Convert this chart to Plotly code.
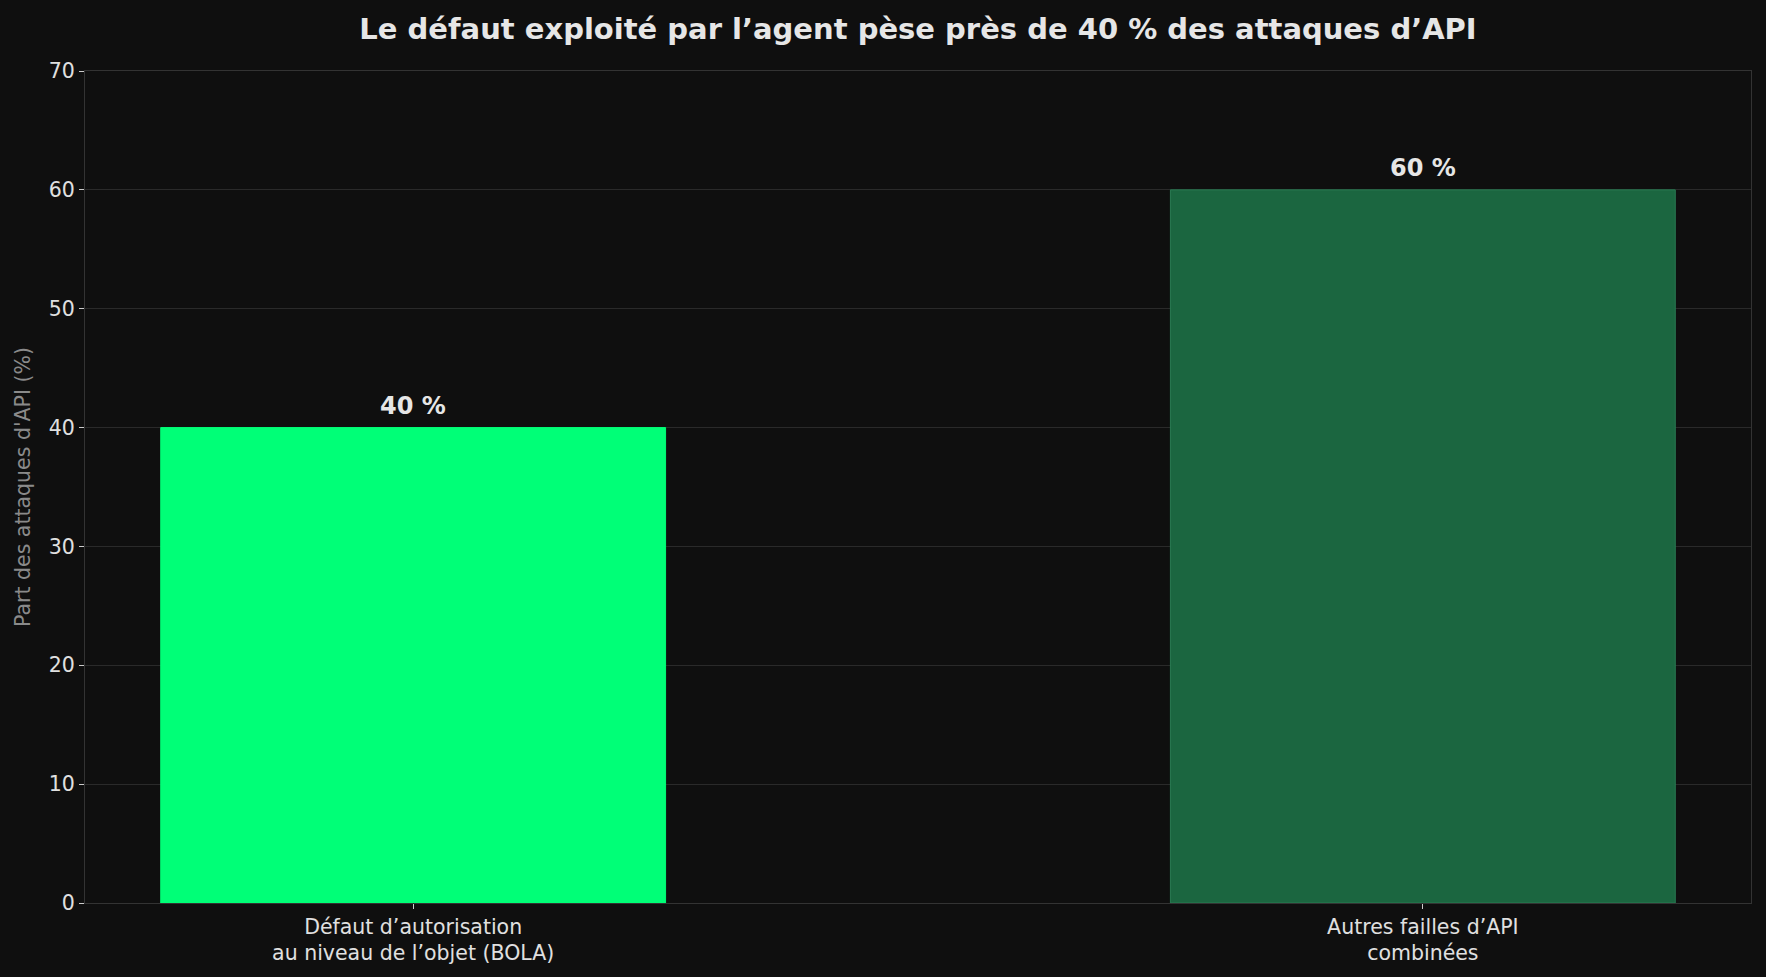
import plotly.graph_objects as go

# data
categories = ["Défaut d’autorisation<br>au niveau de l’objet (BOLA)", "Autres failles d’API<br>combinées"]
shares = [40, 60]
bar_colors = ["#00ff77", "#1b6640"]
value_labels = ["40 %", "60 %"]

W, H = 1766, 977
BG = "#0f0f0f"
FONT = "DejaVu Sans"

fig = go.Figure()
fig.add_trace(go.Bar(
    x=[0, 1], y=shares,
    width=0.5,
    marker=dict(color=bar_colors, line=dict(color=["#00ff77", "#2a7a52"], width=1)),
    hoverinfo="skip",
))

# value labels above the bars
for i, (v, lab) in enumerate(zip(shares, value_labels)):
    fig.add_annotation(
        x=i, y=v, text="<b>" + lab + "</b>", showarrow=False,
        yanchor="bottom", yshift=6,
        font=dict(family=FONT, size=24, color="#e6e6e6"),
    )

fig.update_layout(
    width=W, height=H,
    paper_bgcolor=BG, plot_bgcolor=BG,
    margin=dict(l=85, r=15, t=71, b=74),
    showlegend=False,
    font=dict(family=FONT, color="#e6e6e6"),
    title=dict(
        text="<b>Le défaut exploité par l’agent pèse près de 40 % des attaques d’API</b>",
        x=(85 + 1751) / 2 / W, xanchor="center",
        y=1 - 29 / H, yanchor="middle",
        font=dict(family=FONT, size=29, color="#e6e6e6"),
    ),
)

fig.update_xaxes(
    range=[-0.325, 1.325],
    tickmode="array", tickvals=[0, 1], ticktext=categories,
    tickfont=dict(family=FONT, size=20.5, color="#e0e0e0"),
    ticks="outside", ticklen=5, tickcolor="#cccccc",
    showgrid=False, zeroline=False,
    showline=True, linecolor="#333333", linewidth=1, mirror=True,
)
fig.update_yaxes(
    range=[0, 70], dtick=10,
    tickfont=dict(family=FONT, size=20.5, color="#e0e0e0"),
    ticks="outside", ticklen=5, tickcolor="#cccccc",
    showgrid=True, gridcolor="#2a2a2a", gridwidth=1,
    zeroline=False,
    showline=True, linecolor="#333333", linewidth=1, mirror=True,
    title=dict(text="Part des attaques d'API (%)", standoff=12,
               font=dict(family=FONT, size=20.5, color="#8a8a8a")),
)

fig.write_html(
    "out.html",
    config={"displayModeBar": False},
    post_script="document.body.style.margin='0';document.body.style.background='#0f0f0f';",
)
